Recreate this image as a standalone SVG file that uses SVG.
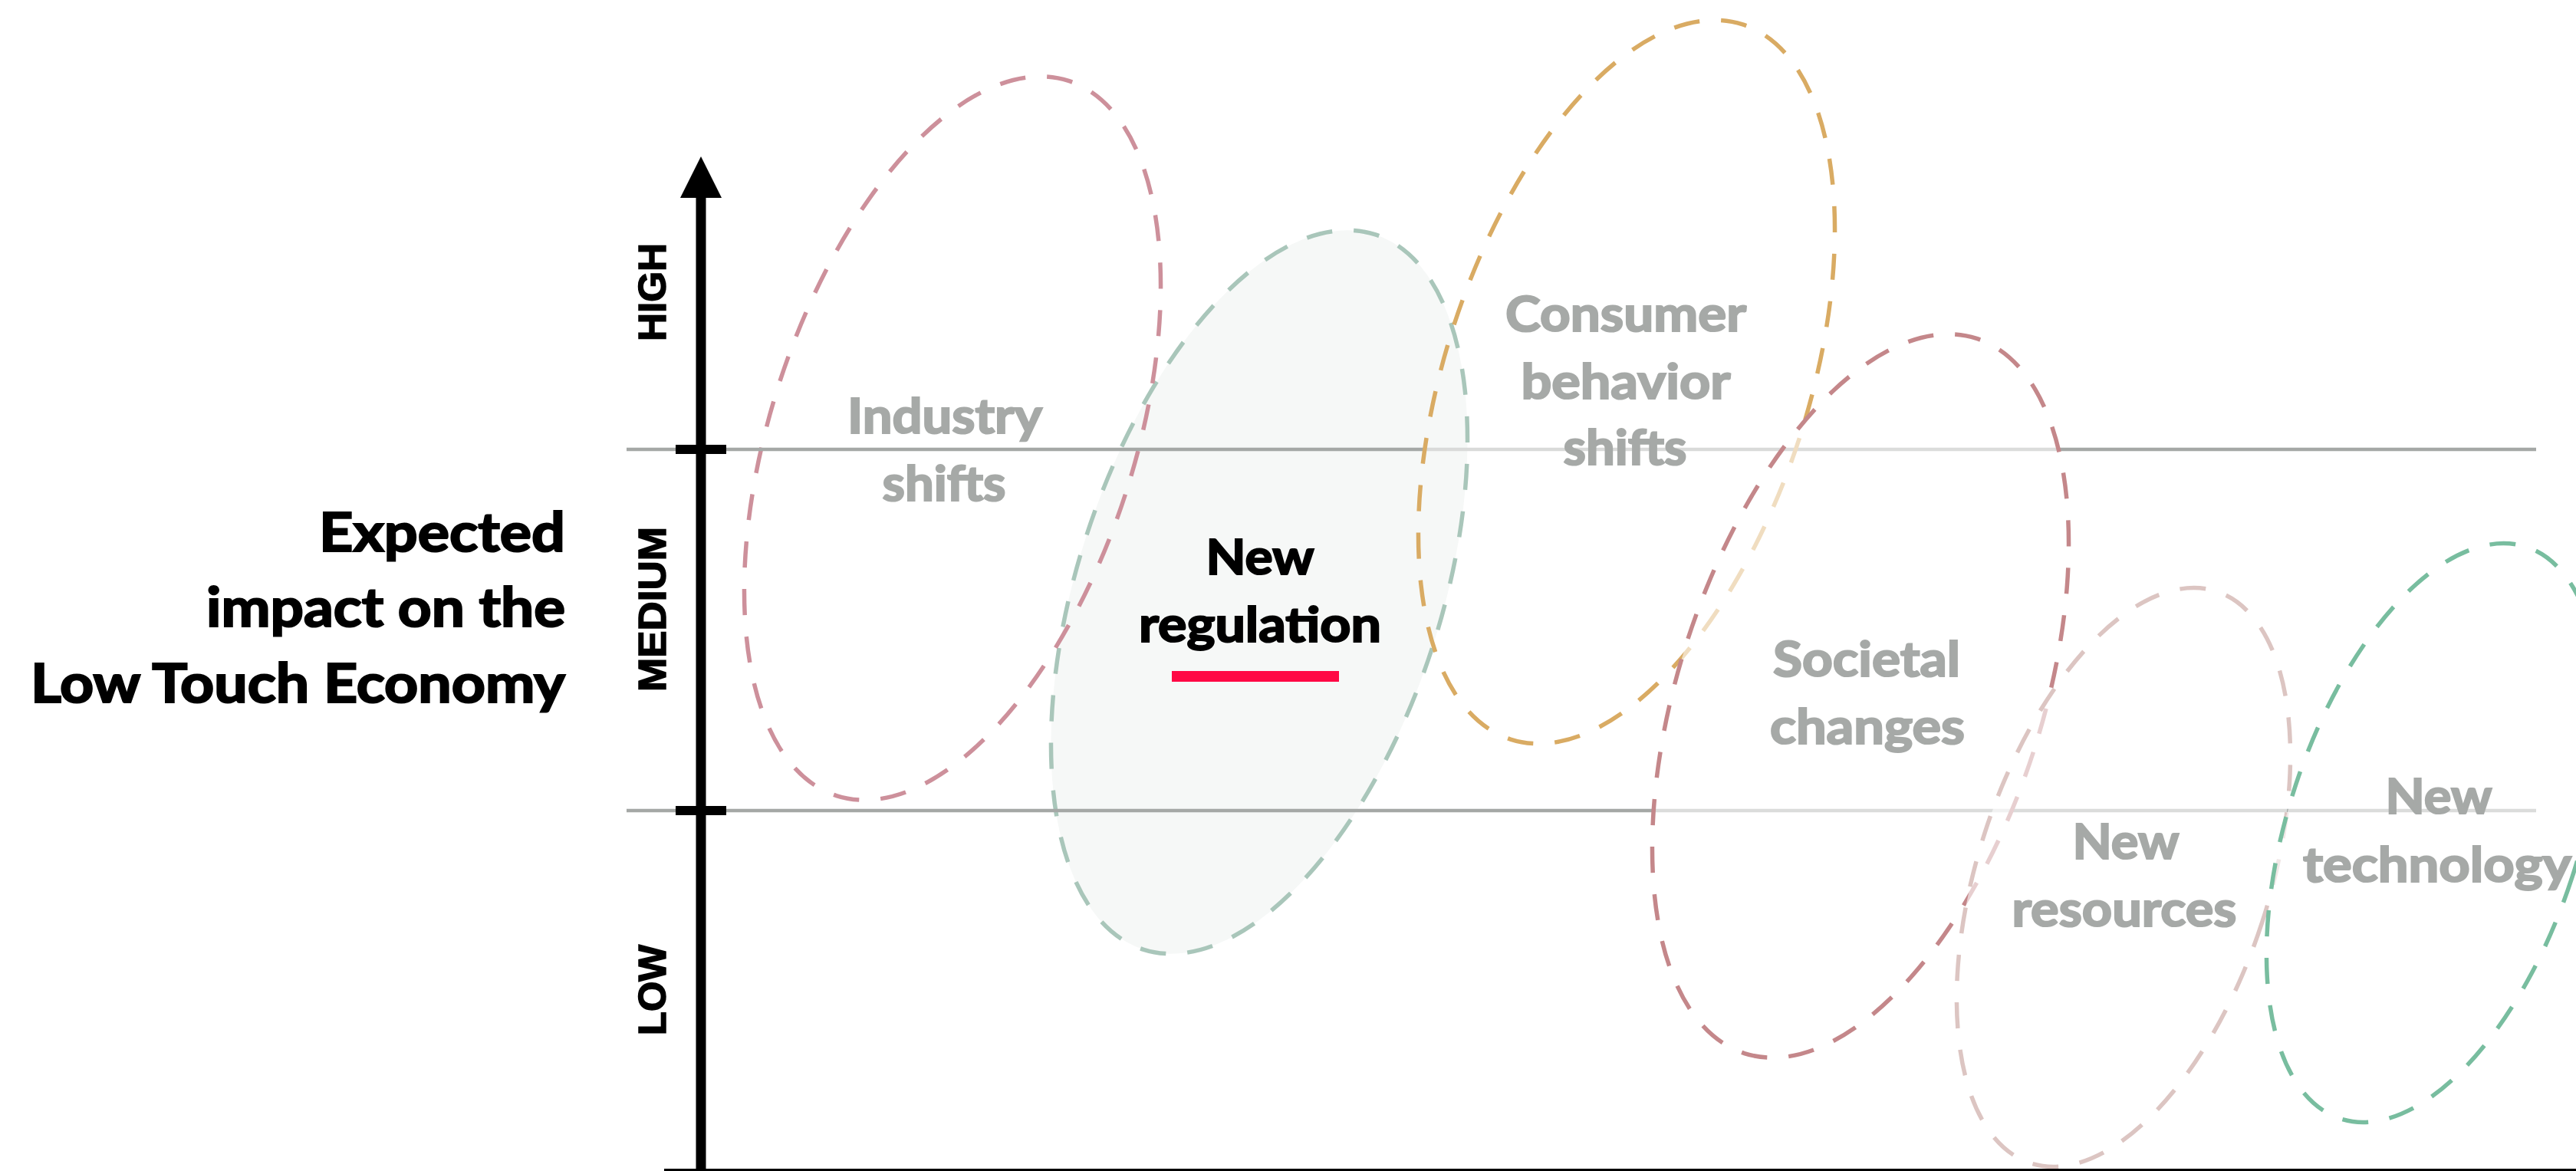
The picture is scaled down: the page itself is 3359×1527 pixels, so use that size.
<svg xmlns="http://www.w3.org/2000/svg" width="3359" height="1527" viewBox="0 0 3359 1527">
<style>
.ell{stroke-width:5.5;stroke-dasharray:34 28;fill:none}
.regfill{fill:#f6f8f7}
.veil{fill:#ffffff;fill-opacity:0.6}
.lbl{font-family:Lato,"Liberation Sans",sans-serif;font-weight:700;font-size:64px;fill:#a6a9a7;stroke:#a6a9a7;stroke-width:2.2;text-anchor:middle}
.dark{fill:#000000;stroke:#000000}
.ttl{font-family:Lato,"Liberation Sans",sans-serif;font-weight:700;font-size:71px;fill:#000000;stroke:#000000;stroke-width:2.2;text-anchor:end}
.lvl{font-family:"Liberation Sans",Arial,sans-serif;font-weight:700;font-size:50px;fill:#000000;stroke:#000000;stroke-width:1.5;text-anchor:middle}
.grid{stroke:#a5a8a6;stroke-width:4.5;fill:none}
.gridl{stroke:#d9dad9;stroke-width:4.5;fill:none}
</style>
<rect x="0" y="0" width="3359" height="1527" fill="#ffffff"/>

<g id="node-new-regulation">
<ellipse cx="1642" cy="772" rx="237" ry="490" transform="rotate(18 1642 772)" class="ell regfill" stroke="#a9c6ba"/>
<text class="lbl dark" x="1643" y="749" textLength="141" lengthAdjust="spacingAndGlyphs">New</text>
<text class="lbl dark" x="1643" y="837" textLength="316" lengthAdjust="spacingAndGlyphs">regulation</text>
<rect x="1528" y="875" width="218" height="14" fill="#ff0844"/>
</g>

<g id="node-industry-shifts">
<ellipse cx="1242" cy="571.5" rx="237" ry="490" transform="rotate(18 1242 571.5)" class="ell" stroke="#cd909b"/>
<text class="lbl" x="1232" y="565" textLength="254" lengthAdjust="spacingAndGlyphs">Industry</text>
<text class="lbl" x="1231" y="653" textLength="161" lengthAdjust="spacingAndGlyphs">shifts</text>
</g>

<g id="connectors">
<line class="grid" x1="817" y1="586" x2="1858" y2="586"/>
<line class="gridl" x1="1858" y1="586" x2="2324" y2="586"/>
<line class="grid" x1="2324" y1="586" x2="3307" y2="586"/>
<line class="grid" x1="817" y1="1057" x2="3307" y2="1057"/>
</g>

<g id="node-consumer-behavior-shifts">
<ellipse cx="2121" cy="498" rx="237" ry="490" transform="rotate(18 2121 498)" class="ell" stroke="#d9ab63"/>
<text class="lbl" x="2120" y="432" textLength="314" lengthAdjust="spacingAndGlyphs">Consumer</text>
<text class="lbl" x="2120" y="520" textLength="273" lengthAdjust="spacingAndGlyphs">behavior</text>
<text class="lbl" x="2119" y="606" textLength="161" lengthAdjust="spacingAndGlyphs">shifts</text>
</g>

<g id="node-societal-changes">
<ellipse cx="2426" cy="907.5" rx="237" ry="490" transform="rotate(18 2426 907.5)" class="veil"/>
<ellipse cx="2426" cy="907.5" rx="237" ry="490" transform="rotate(18 2426 907.5)" class="ell" stroke="#c4878a"/>
<text class="lbl" x="2434" y="882" textLength="244" lengthAdjust="spacingAndGlyphs">Societal</text>
<text class="lbl" x="2435" y="970" textLength="254" lengthAdjust="spacingAndGlyphs">changes</text>
</g>

<g id="node-new-resources">
<ellipse cx="2769" cy="1144" rx="190" ry="392" transform="rotate(18 2769 1144)" class="veil"/>
<ellipse cx="2769" cy="1144" rx="190" ry="392" transform="rotate(18 2769 1144)" class="ell" stroke="#dcc5c2"/>
<text class="lbl" x="2772" y="1120" textLength="139" lengthAdjust="spacingAndGlyphs">New</text>
<text class="lbl" x="2770" y="1208" textLength="293" lengthAdjust="spacingAndGlyphs">resources</text>
</g>

<g id="node-new-technology">
<ellipse cx="3173" cy="1086" rx="190" ry="392" transform="rotate(18 3173 1086)" class="veil"/>
<ellipse cx="3173" cy="1086" rx="190" ry="392" transform="rotate(18 3173 1086)" class="ell" stroke="#78bd9f"/>
<text class="lbl" x="3180" y="1061" textLength="139" lengthAdjust="spacingAndGlyphs">New</text>
<text class="lbl" x="3178" y="1150" textLength="350" lengthAdjust="spacingAndGlyphs">technology</text>
</g>

<g id="axis">
<rect x="866" y="1524" width="2493" height="3" fill="#000000"/>
<rect x="907.5" y="255" width="13" height="1272" fill="#000000"/>
<polygon points="914,204 941,258 887,258" fill="#000000"/>
<rect x="881" y="580" width="66" height="12" fill="#000000"/>
<rect x="881" y="1051" width="66" height="12" fill="#000000"/>
<text class="lvl" transform="translate(868 381) rotate(-90)" x="0" y="0" textLength="128" lengthAdjust="spacingAndGlyphs">HIGH</text>
<text class="lvl" transform="translate(868 794.5) rotate(-90)" x="0" y="0" textLength="215" lengthAdjust="spacingAndGlyphs">MEDIUM</text>
<text class="lvl" transform="translate(868 1291) rotate(-90)" x="0" y="0" textLength="118" lengthAdjust="spacingAndGlyphs">LOW</text>
</g>

<g id="title">
<text class="ttl" x="737" y="719" textLength="321" lengthAdjust="spacingAndGlyphs">Expected</text>
<text class="ttl" x="737" y="817" textLength="468" lengthAdjust="spacingAndGlyphs">impact on the</text>
<text class="ttl" x="737" y="916" textLength="697" lengthAdjust="spacingAndGlyphs">Low Touch Economy</text>
</g>
</svg>
